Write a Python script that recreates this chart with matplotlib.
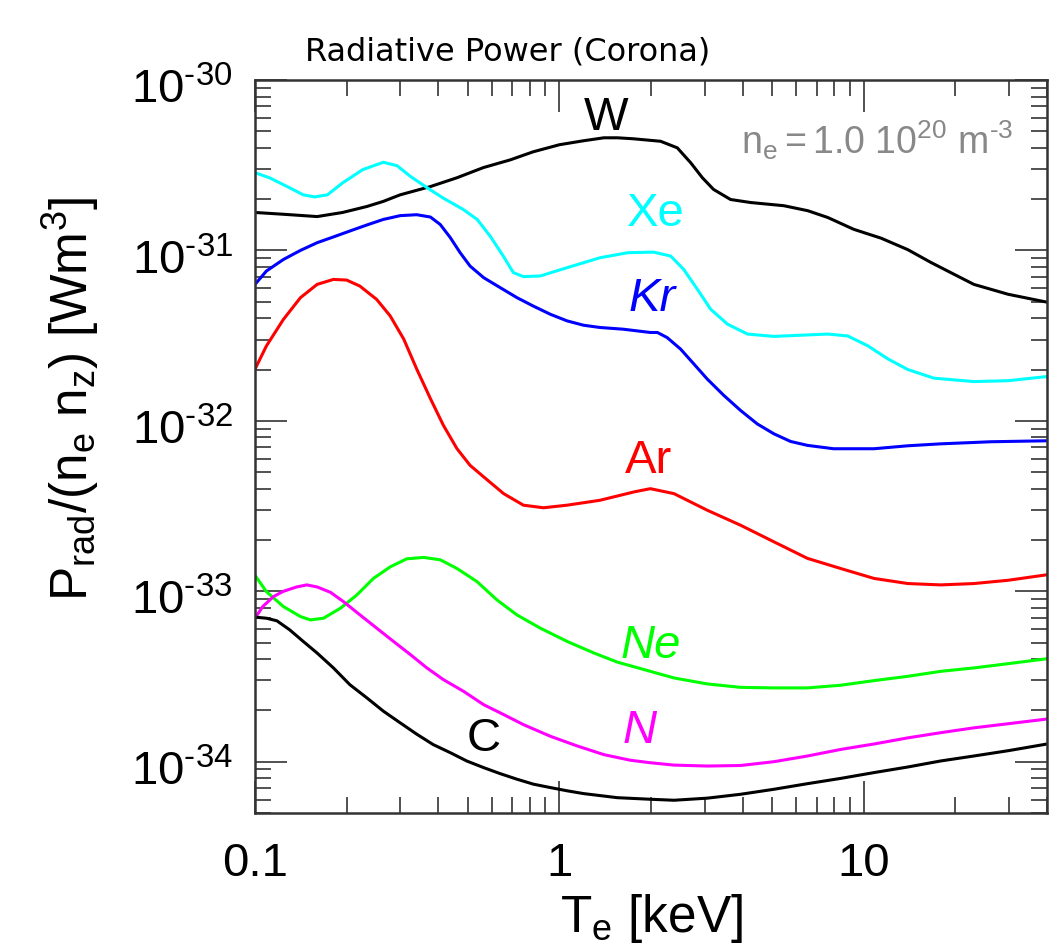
import matplotlib
matplotlib.use('Agg')
import matplotlib.pyplot as plt
from matplotlib.ticker import LogLocator, FixedLocator, FixedFormatter, NullFormatter
from matplotlib.transforms import ScaledTranslation

plt.rcParams['font.family'] = ['Liberation Sans', 'DejaVu Sans']
plt.rcParams['mathtext.fontset'] = 'custom'
plt.rcParams['mathtext.rm'] = 'Liberation Sans'
plt.rcParams['mathtext.it'] = 'Liberation Sans:italic'
plt.rcParams['mathtext.bf'] = 'Liberation Sans:bold'

# radiative power coefficients, T in keV, P in W m^3
T_W = [0.1, 0.124, 0.16, 0.194, 0.233, 0.264, 0.300, 0.377, 0.461, 0.562, 0.690, 0.82, 1.0, 1.2, 1.40, 1.55,
       1.75, 2.15, 2.44, 2.70, 2.95, 3.21, 3.65, 4.25, 5.46, 6.55, 7.62, 9.27, 11.4, 13.96, 16.6, 20.4, 23.0, 29.8, 40]
P_W = [1.67e-31, 1.63e-31, 1.58e-31, 1.67e-31, 1.81e-31, 1.94e-31, 2.12e-31, 2.37e-31, 2.67e-31, 3.06e-31,
       3.40e-31, 3.79e-31, 4.17e-31, 4.40e-31, 4.58e-31, 4.58e-31, 4.52e-31, 4.37e-31, 4.0e-31, 3.27e-31,
       2.67e-31, 2.28e-31, 1.99e-31, 1.91e-31, 1.83e-31, 1.71e-31, 1.56e-31, 1.33e-31, 1.18e-31, 1.01e-31,
       8.51e-32, 7.05e-32, 6.32e-32, 5.53e-32, 4.97e-32]

T_Xe = [0.1, 0.112, 0.130, 0.144, 0.157, 0.173, 0.194, 0.226, 0.264, 0.293, 0.324, 0.368, 0.415, 0.483, 0.537,
        0.593, 0.654, 0.706, 0.762, 0.865, 1.06, 1.36, 1.68, 2.04, 2.32, 2.56, 2.84, 3.14, 3.57, 4.15, 5.06, 6.21,
        7.62, 8.85, 10.3, 12.0, 13.96, 17.0, 23.0, 29.8, 40]
P_Xe = [2.86e-31, 2.66e-31, 2.33e-31, 2.12e-31, 2.06e-31, 2.12e-31, 2.49e-31, 2.98e-31, 3.29e-31, 3.14e-31,
        2.72e-31, 2.33e-31, 2.03e-31, 1.74e-31, 1.52e-31, 1.21e-31, 9.27e-32, 7.41e-32, 7.02e-32, 7.08e-32,
        7.92e-32, 9.06e-32, 9.70e-32, 9.77e-32, 9.27e-32, 7.75e-32, 5.92e-32, 4.52e-32, 3.69e-32, 3.23e-32,
        3.13e-32, 3.18e-32, 3.23e-32, 3.15e-32, 2.76e-32, 2.31e-32, 2.0e-32, 1.78e-32, 1.70e-32, 1.72e-32, 1.82e-32]

T_Kr = [0.1, 0.109, 0.124, 0.141, 0.160, 0.181, 0.205, 0.233, 0.264, 0.300, 0.340, 0.377, 0.406, 0.438, 0.472,
        0.509, 0.564, 0.639, 0.726, 0.82, 0.934, 1.06, 1.20, 1.36, 1.62, 1.99, 2.10, 2.26, 2.50, 2.77, 3.06, 3.47,
        3.94, 4.47, 5.07, 5.75, 6.53, 7.96, 10.8, 13.96, 17.9, 26.2, 40]
P_Kr = [6.32e-32, 7.57e-32, 8.85e-32, 1.0e-31, 1.11e-31, 1.20e-31, 1.30e-31, 1.41e-31, 1.52e-31, 1.60e-31,
        1.62e-31, 1.57e-31, 1.42e-31, 1.19e-31, 9.70e-32, 8.09e-32, 6.92e-32, 6.05e-32, 5.28e-32, 4.72e-32,
        4.22e-32, 3.86e-32, 3.64e-32, 3.53e-32, 3.45e-32, 3.30e-32, 3.30e-32, 3.08e-32, 2.64e-32, 2.15e-32,
        1.76e-32, 1.41e-32, 1.15e-32, 9.59e-33, 8.39e-33, 7.57e-33, 7.18e-33, 6.86e-33, 6.86e-33, 7.14e-33,
        7.33e-33, 7.54e-33, 7.64e-33]

T_Ar = [0.1, 0.109, 0.124, 0.141, 0.160, 0.181, 0.200, 0.221, 0.251, 0.278, 0.308, 0.340, 0.377, 0.416, 0.461,
        0.509, 0.564, 0.656, 0.762, 0.887, 1.06, 1.36, 1.76, 1.99, 2.38, 3.06, 3.94, 5.07, 6.53, 8.4, 10.8, 13.96,
        17.9, 23.0, 29.8, 40]
P_Ar = [2.01e-32, 2.75e-32, 3.94e-32, 5.28e-32, 6.32e-32, 6.76e-32, 6.70e-32, 6.18e-32, 5.16e-32, 4.13e-32,
        3.02e-32, 2.01e-32, 1.35e-32, 9.40e-33, 6.86e-33, 5.48e-33, 4.69e-33, 3.74e-33, 3.20e-33, 3.09e-33,
        3.20e-33, 3.42e-33, 3.83e-33, 4.0e-33, 3.74e-33, 2.99e-33, 2.44e-33, 1.95e-33, 1.56e-33, 1.36e-33,
        1.19e-33, 1.11e-33, 1.09e-33, 1.11e-33, 1.16e-33, 1.25e-33]

T_Ne = [0.1, 0.109, 0.124, 0.141, 0.152, 0.168, 0.191, 0.216, 0.245, 0.278, 0.315, 0.358, 0.406, 0.461, 0.536,
        0.624, 0.726, 0.865, 1.06, 1.30, 1.55, 1.99, 2.38, 3.06, 3.94, 5.07, 6.53, 8.4, 10.8, 13.96, 17.9, 23.0,
        29.8, 40]
P_Ne = [1.24e-33, 9.95e-34, 8.13e-34, 7.11e-34, 6.79e-34, 6.95e-34, 7.96e-34, 9.51e-34, 1.19e-33, 1.39e-33,
        1.55e-33, 1.58e-33, 1.53e-33, 1.36e-33, 1.14e-33, 8.89e-34, 7.26e-34, 6.08e-34, 5.08e-34, 4.34e-34,
        3.84e-34, 3.39e-34, 3.10e-34, 2.86e-34, 2.73e-34, 2.71e-34, 2.71e-34, 2.81e-34, 2.99e-34, 3.17e-34,
        3.39e-34, 3.55e-34, 3.76e-34, 4.02e-34]

T_N = [0.1, 0.106, 0.115, 0.124, 0.137, 0.148, 0.160, 0.177, 0.195, 0.221, 0.251, 0.285, 0.324, 0.367, 0.416,
       0.484, 0.564, 0.656, 0.762, 0.934, 1.14, 1.40, 1.71, 1.99, 2.38, 3.06, 3.94, 5.07, 6.53, 8.4, 10.8, 13.96,
       17.9, 23.0, 29.8, 40]
P_N = [6.95e-34, 8.13e-34, 9.31e-34, 1.0e-33, 1.06e-33, 1.09e-33, 1.06e-33, 9.86e-34, 8.71e-34, 7.28e-34,
       6.08e-34, 5.08e-34, 4.25e-34, 3.55e-34, 3.03e-34, 2.59e-34, 2.16e-34, 1.89e-34, 1.65e-34, 1.41e-34,
       1.24e-34, 1.10e-34, 1.02e-34, 9.86e-35, 9.55e-35, 9.43e-35, 9.5e-35, 1.0e-34, 1.08e-34, 1.18e-34,
       1.27e-34, 1.38e-34, 1.48e-34, 1.58e-34, 1.67e-34, 1.78e-34]

T_C = [0.1, 0.109, 0.118, 0.130, 0.144, 0.160, 0.181, 0.205, 0.233, 0.264, 0.300, 0.340, 0.385, 0.438, 0.496,
       0.564, 0.639, 0.726, 0.822, 0.934, 1.06, 1.20, 1.55, 1.99, 2.38, 3.06, 3.94, 5.07, 6.53, 8.4, 10.8, 13.96,
       17.9, 23.0, 29.8, 40]
P_C = [7.05e-34, 6.95e-34, 6.71e-34, 5.94e-34, 5.08e-34, 4.34e-34, 3.55e-34, 2.83e-34, 2.37e-34, 1.98e-34,
       1.69e-34, 1.45e-34, 1.26e-34, 1.13e-34, 1.01e-34, 9.23e-35, 8.51e-35, 7.89e-35, 7.38e-35, 7.05e-35,
       6.75e-35, 6.5e-35, 6.15e-35, 6.02e-35, 5.94e-35, 6.11e-35, 6.44e-35, 6.89e-35, 7.43e-35, 7.98e-35,
       8.63e-35, 9.31e-35, 1.01e-34, 1.08e-34, 1.16e-34, 1.27e-34]

elements = ['W', 'Xe', 'Kr', 'Ar', 'Ne', 'N', 'C']
colors = ['black', '#00ffff', '#0000ff', '#ff0000', '#00ff00', '#ff00ff', 'black']
temps = [T_W, T_Xe, T_Kr, T_Ar, T_Ne, T_N, T_C]
powers = [P_W, P_Xe, P_Kr, P_Ar, P_Ne, P_N, P_C]
# where each name is written (T, P)
label_T = [1.42, 2.07, 2.02, 1.96, 1.99, 1.84, 0.562]
label_P = [6.0e-31, 1.63e-31, 5.16e-32, 5.83e-33, 4.76e-34, 1.52e-34, 1.36e-34]
label_style = ['normal', 'normal', 'italic', 'normal', 'italic', 'italic', 'normal']

y_ticks = [1e-34, 1e-33, 1e-32, 1e-31, 1e-30]
y_ticklabels = [r'$\mathrm{10^{‐34}}$', r'$\mathrm{10^{‐33}}$', r'$\mathrm{10^{‐32}}$',
                r'$\mathrm{10^{‐31}}$', r'$\mathrm{10^{‐30}}$']

fig = plt.figure(figsize=(10.52, 9.52), dpi=100)
ax = fig.add_axes([255/1052, 1-813/952, 792/1052, 733/952])

for T, P, c in zip(temps, powers, colors):
    ax.plot(T, P, color=c, lw=2.2)

for name, c, t, p, st in zip(elements, colors, label_T, label_P, label_style):
    ax.text(t, p, name, color=c, fontsize=34, style=st, ha='center', va='center')

ax.set_xscale('log')
ax.set_yscale('log')
ax.set_xlim(0.1, 40)
ax.set_ylim(5e-35, 1e-30)

ax.xaxis.set_major_locator(FixedLocator([0.1, 1, 10]))
ax.xaxis.set_major_formatter(FixedFormatter(['0.1', '1', '10']))
ax.xaxis.set_minor_locator(LogLocator(base=10, subs=range(2, 10), numticks=20))
ax.xaxis.set_minor_formatter(NullFormatter())
ax.yaxis.set_major_locator(FixedLocator(y_ticks))
ax.yaxis.set_major_formatter(FixedFormatter(y_ticklabels))
ax.yaxis.set_minor_locator(LogLocator(base=10, subs=range(2, 10), numticks=20))
ax.yaxis.set_minor_formatter(NullFormatter())

ax.tick_params(which='both', direction='in', top=True, right=True, color='#333333')
ax.tick_params(which='major', length=23, width=1.2, labelsize=34)
ax.tick_params(which='minor', length=11.5, width=1.2)
ax.tick_params(axis='x', which='major', pad=21)
ax.tick_params(axis='y', which='major', pad=16)
for lab in ax.get_yticklabels():
    lab.set_transform(lab.get_transform() + ScaledTranslation(0, -6/100, fig.dpi_scale_trans))
for s in ax.spines.values():
    s.set_linewidth(1.8)
    s.set_color('#333333')

ax.set_xlabel(r'$\mathrm{T_e\ [keV]}$', fontsize=37, labelpad=4)
ax.set_ylabel(r'$\mathrm{P_{rad}/(n_e\ n_z)\ [Wm^3]}$', fontsize=37)
ax.yaxis.set_label_coords(-0.194, 0.565)

fig.text(305/1052, 1-52/952, 'Radiative Power (Corona)', fontsize=23, ha='left', va='center',
         family='DejaVu Sans')
ax.text(0.957, 0.90, r'$\mathrm{n_e=1.0\ 10^{20}\ m^{‐3}}$', transform=ax.transAxes, color='#888888',
        fontsize=27, ha='right', va='baseline')

fig.savefig('out.png', dpi=100)
